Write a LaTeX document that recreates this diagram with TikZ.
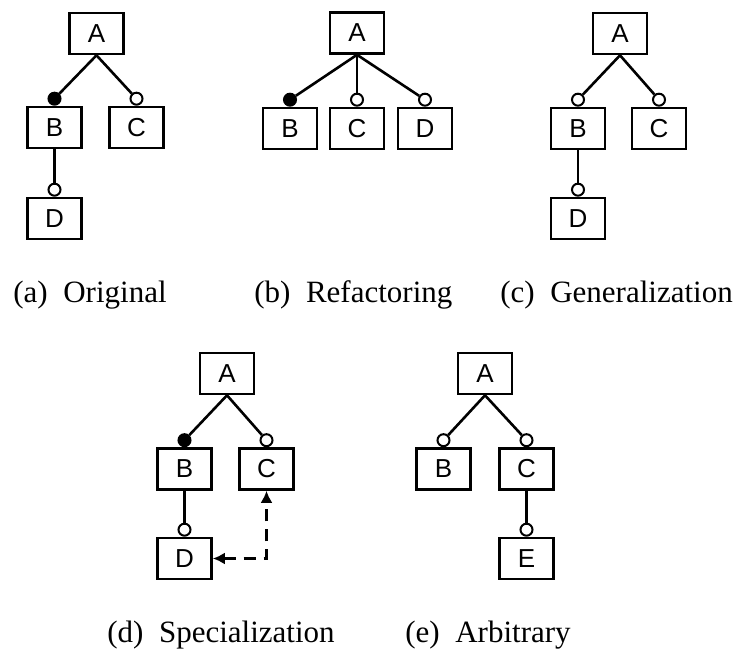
\documentclass[tikz,border=0pt]{standalone}
\usepackage{fontspec}
\setmainfont{Liberation Serif}
\setsansfont{Liberation Sans}
\usetikzlibrary{positioning,arrows.meta}
\tikzset{feature/.style={draw,line width=1.3pt,rectangle,minimum width=27pt,minimum height=20.5pt,inner sep=0pt,font=\sffamily\fontsize{13}{13}\selectfont}}
\tikzset{mand/.style={draw,line width=1pt,circle,fill=black,minimum size=6pt,inner sep=0pt}}
\tikzset{opt/.style={mand,fill=white}}
\tikzset{edge/.style={line width=1.3pt}}
\tikzset{caption/.style={anchor=base west,inner sep=0pt,font=\fontsize{15.5}{16}\selectfont}}

\begin{document}
\begin{tikzpicture}[x=0.5pt,y=-0.5pt]
    \useasboundingbox (0,0) rectangle (739,651);
    % (a) original
    \node[feature] (aA) at (96.5,33.5) {A};
    \node[feature] (aB) at (54.5,127.5) {B};
    \node[feature] (aC) at (136.5,127.5) {C};
    \node[feature] (aD) at (54.5,218.5) {D};
        \node[mand,above=0pt of aB] (aBc) {};
        \node[opt,above=0pt of aC] (aCc) {};
        \node[opt,above=0pt of aD] (aDc) {};
        \draw[edge] (aA.south) -- (aBc);
        \draw[edge] (aA.south) -- (aCc);
        \draw[edge] (aB.south) -- (aDc);
    \node[caption] (acap) at (13,303) {(a)\enspace Original};
    % (b) refactoring
    \node[feature] (bA) at (357,33) {A};
    \node[feature] (bB) at (290,128.5) {B};
    \node[feature] (bC) at (357,128.5) {C};
    \node[feature] (bD) at (425,128.5) {D};
        \node[mand,above=0pt of bB] (bBc) {};
        \node[opt,above=0pt of bC] (bCc) {};
        \node[opt,above=0pt of bD] (bDc) {};
        \draw[edge] (bA.south) -- (bBc);
        \draw[edge] (bA.south) -- (bCc);
        \draw[edge] (bA.south) -- (bDc);
    \node[caption] (bcap) at (254,303) {(b)\enspace Refactoring};
    % (c) generalization
    \node[feature] (cA) at (620,33.5) {A};
    \node[feature] (cB) at (578,128.5) {B};
    \node[feature] (cC) at (659,128.5) {C};
    \node[feature] (cD) at (578,218.5) {D};
        \node[opt,above=0pt of cB] (cBc) {};
        \node[opt,above=0pt of cC] (cCc) {};
        \node[opt,above=0pt of cD] (cDc) {};
        \draw[edge] (cA.south) -- (cBc);
        \draw[edge] (cA.south) -- (cCc);
        \draw[edge] (cB.south) -- (cDc);
    \node[caption] (ccap) at (500,303) {(c)\enspace Generalization};
    % (d) specialization
    \node[feature] (dA) at (227,373.5) {A};
    \node[feature] (dB) at (184.5,469) {B};
    \node[feature] (dC) at (266.5,469) {C};
    \node[feature] (dD) at (184.5,558.5) {D};
        \node[mand,above=0pt of dB] (dBc) {};
        \node[opt,above=0pt of dC] (dCc) {};
        \node[opt,above=0pt of dD] (dDc) {};
        \draw[edge] (dA.south) -- (dBc);
        \draw[edge] (dA.south) -- (dCc);
        \draw[edge] (dB.south) -- (dDc);
        \draw[edge,dash pattern=on 6pt off 4pt,{Latex[length=6pt,width=6pt]}-{Latex[length=6pt,width=6pt]}] (dD.east) -| (dC.south);
    \node[caption] (dcap) at (107,643) {(d)\enspace Specialization};
    % (e) arbitrary
    \node[feature] (eA) at (485,373.5) {A};
    \node[feature] (eB) at (443.5,469) {B};
    \node[feature] (eC) at (526.5,469) {C};
    \node[feature] (eE) at (526.5,558.5) {E};
        \node[opt,above=0pt of eB] (eBc) {};
        \node[opt,above=0pt of eC] (eCc) {};
        \node[opt,above=0pt of eE] (eEc) {};
        \draw[edge] (eA.south) -- (eBc);
        \draw[edge] (eA.south) -- (eCc);
        \draw[edge] (eC.south) -- (eEc);
    \node[caption] (ecap) at (405,643) {(e)\enspace Arbitrary};
\end{tikzpicture}
\end{document}
